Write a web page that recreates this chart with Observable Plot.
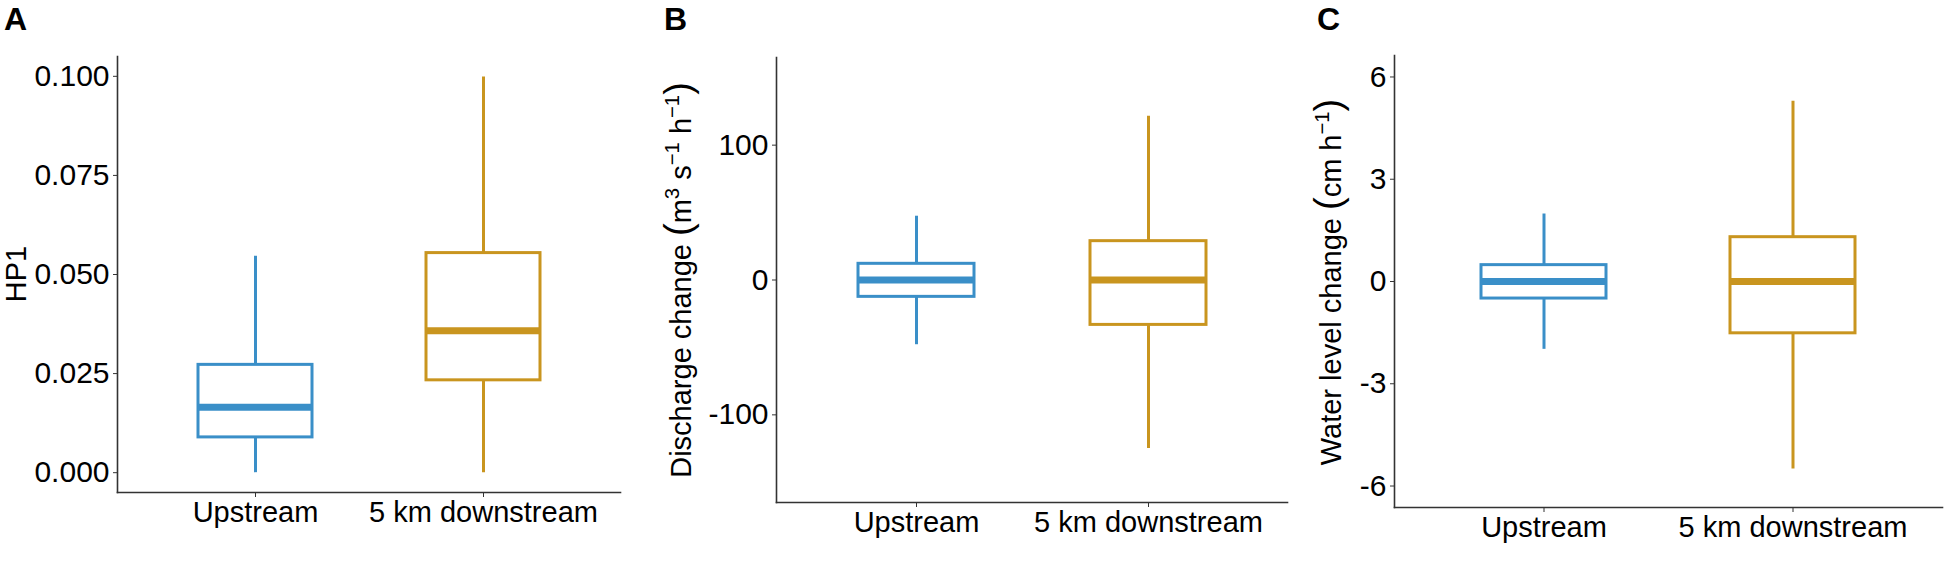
<!DOCTYPE html>
<html>
<head>
<meta charset="utf-8">
<script src="https://cdn.jsdelivr.net/npm/d3@7"></script>
<script src="https://cdn.jsdelivr.net/npm/@observablehq/plot@0.6"></script>
<style>
  html, body { margin: 0; padding: 0; background: #fff; }
  #wrap { position: relative; width: 1954px; height: 561px; font-family: "Liberation Sans", Arial, sans-serif; color: #000; overflow: hidden; }
  .panel { position: absolute; top: 0; }
  .tag { position: absolute; font-weight: bold; font-size: 32px; line-height: 32px; }
  .ytitle { position: absolute; font-size: 29px; line-height: 29px; white-space: nowrap; transform: translate(-50%, -50%) rotate(-90deg); }
  .ytitle sup { font-size: 0.7em; line-height: 0; vertical-align: 0.6em; }
  .ytitle .par { font-size: 38px; }
</style>
</head>
<body>
<div id="wrap"></div>
<script>
// ---- data ----
const categories = ["Upstream", "5 km downstream"];
const colors = ["#3A8FC8", "#C9951F"];

const hp1Min    = [0.0,    0.0];
const hp1Q1     = [0.0089, 0.0233];
const hp1Median = [0.0165, 0.0358];
const hp1Q3     = [0.0272, 0.0554];
const hp1Max    = [0.0546, 0.0998];

const dischargeMin    = [-48,  -125];
const dischargeQ1     = [-12.5, -33.3];
const dischargeMedian = [0,     0];
const dischargeQ3     = [12,    28.8];
const dischargeMax    = [47.3,  121.4];

const waterMin    = [-1.99, -5.5];
const waterQ1     = [-0.5,  -1.52];
const waterMedian = [0,     0];
const waterQ3     = [0.48,  1.3];
const waterMax    = [1.98,  5.29];

const hp1Ticks = [0, 0.025, 0.05, 0.075, 0.1];
const dischargeTicks = [-100, 0, 100];
const waterTicks = [-6, -3, 0, 3, 6];

function table(mn, q1, med, q3, mx) {
  return categories.map((c, i) => ({cat: c, min: mn[i], q1: q1[i], median: med[i], q3: q3[i], max: mx[i]}));
}

const panels = [
  {tag: "A", left: 0, width: 640, ml: 117, mr: 20, mt: 56, mb: 69,
   data: table(hp1Min, hp1Q1, hp1Median, hp1Q3, hp1Max),
   domain: [-0.005, 0.105], ticks: hp1Ticks, fmt: d3.format(".3f"),
   tagPos: [4, 3], titleHTML: "HP1", titlePos: [16, 274]},
  {tag: "B", left: 640, width: 660, ml: 136, mr: 13, mt: 57, mb: 59,
   data: table(dischargeMin, dischargeQ1, dischargeMedian, dischargeQ3, dischargeMax),
   domain: [-165, 165], ticks: dischargeTicks, fmt: d => String(d),
   tagPos: [664, 3],
   titleHTML: 'Discharge change <span class="par">(</span>m<sup>3</sup> s<sup>−1</sup> h<sup>−1</sup><span class="par">)</span>',
   titlePos: [680, 280]},
  {tag: "C", left: 1300, width: 654, ml: 94, mr: 12, mt: 55, mb: 54,
   data: table(waterMin, waterQ1, waterMedian, waterQ3, waterMax),
   domain: [-6.63, 6.63], ticks: waterTicks, fmt: d => String(d),
   tagPos: [1317, 3],
   titleHTML: 'Water level change <span class="par">(</span>cm h<sup>−1</sup><span class="par">)</span>',
   titlePos: [1330, 282]}
];

const wrap = document.getElementById("wrap");

for (const p of panels) {
  const chart = Plot.plot({
    width: p.width,
    height: 561,
    marginLeft: p.ml, marginRight: p.mr, marginTop: p.mt, marginBottom: p.mb,
    style: {fontFamily: '"Liberation Sans", Arial, sans-serif', fontSize: "29px", color: "#000", background: "transparent"},
    x: {type: "band", domain: categories, paddingInner: 0.5, paddingOuter: 0.35, align: 0.5},
    y: {domain: p.domain},
    color: {domain: categories, range: colors},
    marks: [
      Plot.ruleX(p.data, {x: "cat", y1: "min", y2: "max", stroke: "cat", strokeWidth: 3}),
      Plot.barY(p.data, {x: "cat", y1: "q1", y2: "q3", fill: "white", stroke: "cat", strokeWidth: 3}),
      Plot.tickY(p.data, {x: "cat", y: "median", stroke: "cat", strokeWidth: 7}),
      Plot.axisY({ticks: p.ticks, tickFormat: p.fmt, tickSize: 4, tickPadding: 4, fontSize: 30, label: null, stroke: "#333"}),
      Plot.axisX({tickSize: 5, tickPadding: 4, fontSize: 29, label: null, stroke: "#333"}),
      Plot.frame({anchor: "left", stroke: "#333", strokeWidth: 1.6}),
      Plot.frame({anchor: "bottom", stroke: "#333", strokeWidth: 1.6})
    ]
  });
  chart.classList.add("panel");
  chart.style.left = p.left + "px";
  wrap.appendChild(chart);

  const tag = document.createElement("div");
  tag.className = "tag";
  tag.textContent = p.tag;
  tag.style.left = p.tagPos[0] + "px";
  tag.style.top = p.tagPos[1] + "px";
  wrap.appendChild(tag);

  const t = document.createElement("div");
  t.className = "ytitle";
  t.innerHTML = p.titleHTML;
  t.style.left = p.titlePos[0] + "px";
  t.style.top = p.titlePos[1] + "px";
  wrap.appendChild(t);
}
</script>
</body>
</html>
